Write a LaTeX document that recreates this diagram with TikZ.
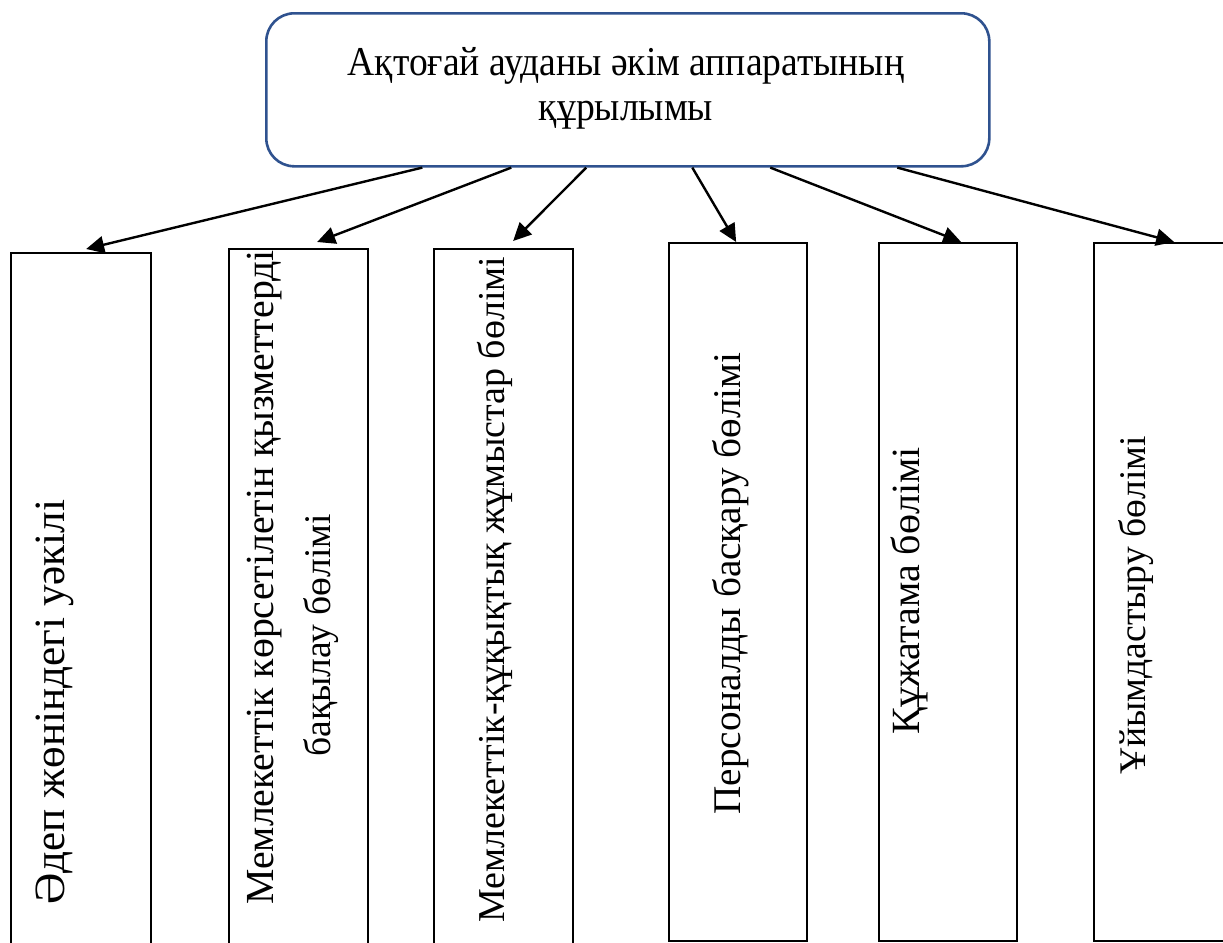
\documentclass[tikz,border=0pt]{standalone}
\usepackage{fontspec}
\setmainfont{Liberation Serif}
\newfontfamily\titlefont[FakeStretch=0.916]{Liberation Serif}
\usetikzlibrary{arrows.meta}
\definecolor{outlineblue}{HTML}{2F528F}
\begin{document}
\begin{tikzpicture}[x=0.5pt,y=-0.5pt,
  topbox/.style={draw=outlineblue, line width=1.3pt, rounded corners=14pt, fill=white, inner sep=0, anchor=north west},
  unitbox/.style={draw=black, line width=1.15pt, inner sep=0, anchor=north west},
  arr/.style={draw=black, line width=1.2pt, -{Triangle[length=9pt,width=8.5pt]}},
  titletext/.style={align=center, inner sep=0, font=\titlefont\fontsize{20.5}{22.5}\selectfont},
  vtext/.style={rotate=90, anchor=base west, inner sep=0},
  vsize/.style={font=\fontsize{#1}{24}\selectfont}
]
\useasboundingbox (0,0) rectangle (1223,943);

% top box
\node[topbox, minimum width=361.5pt, minimum height=76.5pt] (top) at (265,12) {};
\node[titletext] (title) at (626,88) {Ақтоғай ауданы әкім аппаратының\\құрылымы};

% unit boxes
\node[unitbox, minimum width=70pt, minimum height=360pt] (b1) at (10,252) {};
\node[unitbox, minimum width=69.5pt, minimum height=360pt] (b2) at (228,248) {};
\node[unitbox, minimum width=69.5pt, minimum height=360pt] (b3) at (433,248) {};
\node[unitbox, minimum width=69pt, minimum height=349pt] (b4) at (668,242) {};
\node[unitbox, minimum width=69pt, minimum height=349pt] (b5) at (878,242) {};
\node[unitbox, minimum width=80pt, minimum height=349pt] (b6) at (1093,242) {};

% texts
\node[vtext, vsize=21.6] (t1) at (64,905) {Әдеп жөніндегі уәкілі};
\node[vtext, vsize=19.9] (t2a) at (273,905) {Мемлекеттік көрсетілетін қызметтерді};
\node[vtext, vsize=18.8] (t2b) at (330,757) {бақылау бөлімі};
\node[vtext, vsize=19] (t3) at (504,923) {Мемлекеттік-құқықтық жұмыстар бөлімі};
\node[vtext, vsize=19.6] (t4) at (740,815) {Персоналды басқару бөлімі};
\node[vtext, vsize=20] (t5) at (919,735) {Құжатама бөлімі};
\node[vtext, vsize=18.8] (t6) at (1145,775) {Ұйымдастыру бөлімі};

% arrows
\draw[arr] ([xshift=-102.75pt]top.south) -- ([xshift=2.5pt,yshift=1.5pt]b1.north);
\draw[arr] ([xshift=-58.25pt]top.south) -- ([xshift=9.25pt,yshift=3pt]b2.north);
\draw[arr] ([xshift=-20.75pt]top.south) -- ([xshift=4.75pt,yshift=3.5pt]b3.north);
\draw[arr] ([xshift=32.25pt]top.south) -- ([xshift=-1pt]b4.north);
\draw[arr] ([xshift=71.25pt]top.south) -- ([xshift=6.5pt]b5.north);
\draw[arr] ([xshift=134.75pt]top.south) -- ([xshift=0pt]b6.north);
\end{tikzpicture}
\end{document}
